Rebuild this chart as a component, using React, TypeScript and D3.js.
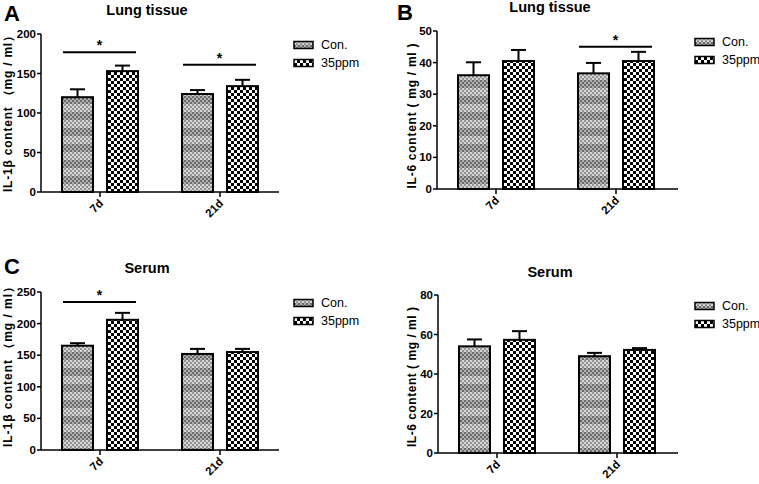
import React from 'react';
import * as d3 from 'd3';

const categories = ['7d', '21d'];
const seriesNames = ['Con.', '35ppm'];

// Panel A: IL-1β lung tissue
const aCon = [120, 124];
const aConErr = [10, 5];
const a35 = [153, 134];
const a35Err = [7, 8];
const aSig = [{ cat: '7d', y: 177 }, { cat: '21d', y: 161 }];
const aTicks = [0, 50, 100, 150, 200];

// Panel B: IL-6 lung tissue
const bCon = [36, 36.6];
const bConErr = [4.1, 3.3];
const b35 = [40.5, 40.5];
const b35Err = [3.5, 2.9];
const bSig = [{ cat: '21d', y: 45 }];
const bTicks = [0, 10, 20, 30, 40, 50];

// Panel C: IL-1β serum
const cCon = [165, 152];
const cConErr = [4, 8];
const c35 = [206, 155];
const c35Err = [11, 5];
const cSig = [{ cat: '7d', y: 234 }];
const cTicks = [0, 50, 100, 150, 200, 250];

// Panel D: IL-6 serum
const dCon = [54, 49];
const dConErr = [3.5, 1.7];
const d35 = [57.3, 52.2];
const d35Err = [4.4, 0.9];
const dSig: { cat: string; y: number }[] = [];
const dTicks = [0, 20, 40, 60, 80];

const FONT = 'Liberation Sans, Arial, sans-serif';

type PanelProps = {
  letter?: string;
  letterX?: number;
  letterY?: number;
  title: string;
  yLabel: string;
  axisX: number;
  xEnd: number;
  yTop: number;
  y0: number;
  yMax: number;
  ticks: number[];
  con: number[];
  conErr: number[];
  exp: number[];
  expErr: number[];
  sig: { cat: string; y: number }[];
  titleX: number;
  titleY: number;
  labelX: number;
  labelY: number;
  labelLen: number;
  legendX: number;
  legendY: number;
};

function Patterns() {
  const cells: JSX.Element[] = [];
  for (let r = 0; r < 8; r++) {
    for (let c = 0; c < 2; c++) {
      const dark = (r + c) % 2 === 0;
      const band = Math.floor(r / 4) === 0;
      const fill = band ? (dark ? '#6a6a6a' : '#b0b0b0') : (dark ? '#939393' : '#d6d6d6');
      cells.push(<rect key={`${r}-${c}`} x={c * 2} y={r * 2} width={2} height={2} fill={fill} />);
    }
  }
  return (
    <defs>
      <pattern id="conPat" patternUnits="userSpaceOnUse" width={4} height={16}>
        {cells}
      </pattern>
      <pattern id="expPat" patternUnits="userSpaceOnUse" width={6} height={6}>
        <rect x={0} y={0} width={6} height={6} fill="#fff" />
        <rect x={0} y={0} width={3} height={3} fill="#000" />
        <rect x={3} y={3} width={3} height={3} fill="#000" />
      </pattern>
    </defs>
  );
}

function Panel(p: PanelProps) {
  const y = d3.scaleLinear().domain([0, p.yMax]).range([p.y0, p.yTop]);
  const x = d3.scaleBand().domain(categories).range([p.axisX - 1, p.axisX + 239]).paddingInner(0).paddingOuter(0);
  const inner = d3.scaleBand().domain(seriesNames).range([-38, 38]).paddingInner(14 / 45).paddingOuter(0);
  const series = [
    { name: seriesNames[0], vals: p.con, errs: p.conErr, fill: 'url(#conPat)' },
    { name: seriesNames[1], vals: p.exp, errs: p.expErr, fill: 'url(#expPat)' },
  ];
  const bw = inner.bandwidth();
  return (
    <g fontFamily={FONT}>
      {p.letter && (
        <text x={p.letterX} y={p.letterY} fontSize={22} fontWeight="bold">{p.letter}</text>
      )}
      <text x={p.titleX} y={p.titleY} fontSize={14.5} fontWeight="bold" textAnchor="middle">{p.title}</text>
      {categories.map((cat, ci) =>
        series.map((s) => {
          const cx = (x(cat) as number) + x.bandwidth() / 2;
          const bx = cx + (inner(s.name) as number);
          const top = y(s.vals[ci]);
          const errTop = y(s.vals[ci] + s.errs[ci]);
          const mid = bx + bw / 2;
          return (
            <g key={cat + s.name}>
              <line x1={mid} x2={mid} y1={top} y2={errTop} stroke="#000" strokeWidth={2} />
              <line x1={mid - 7.5} x2={mid + 7.5} y1={errTop} y2={errTop} stroke="#000" strokeWidth={2} />
              <rect x={bx} y={top} width={bw} height={p.y0 - top} fill={s.fill} stroke="#000" strokeWidth={2} />
            </g>
          );
        })
      )}
      {p.sig.map((sg) => {
        const cx = (x(sg.cat) as number) + x.bandwidth() / 2;
        const x1 = cx + (inner(seriesNames[0]) as number) + 1;
        const x2 = cx + (inner(seriesNames[1]) as number) + bw - 2;
        const yy = y(sg.y);
        return (
          <g key={'sig' + sg.cat}>
            <line x1={x1} x2={x2} y1={yy} y2={yy} stroke="#000" strokeWidth={2} />
            <text x={(x1 + x2) / 2} y={yy - 2} fontSize={14} fontWeight="bold" textAnchor="middle">*</text>
          </g>
        );
      })}
      <line x1={p.axisX} x2={p.axisX} y1={p.yTop} y2={p.y0} stroke="#000" strokeWidth={1.5} />
      {p.ticks.map((t) => (
        <g key={'yt' + t}>
          <line x1={p.axisX - 4} x2={p.axisX} y1={y(t)} y2={y(t)} stroke="#000" strokeWidth={1.5} />
          <text x={p.axisX - 5} y={y(t)} dy="0.35em" fontSize={11.5} fontWeight="bold" textAnchor="end">{t}</text>
        </g>
      ))}
      <line x1={p.axisX} x2={p.xEnd} y1={p.y0} y2={p.y0} stroke="#000" strokeWidth={1.5} />
      {categories.map((cat) => {
        const cx = (x(cat) as number) + x.bandwidth() / 2;
        return (
          <g key={'xt' + cat}>
            <line x1={cx} x2={cx} y1={p.y0} y2={p.y0 + 5} stroke="#000" strokeWidth={1.5} />
            <text transform={`translate(${cx + 4},${p.y0 + 12}) rotate(-45)`} fontSize={11.5} fontWeight="bold" textAnchor="end">{cat}</text>
          </g>
        );
      })}
      <text transform={`translate(${p.labelX},${p.labelY}) rotate(-90)`} fontSize={12} fontWeight="bold" textAnchor="middle" dy="0.35em"
        textLength={p.labelLen} lengthAdjust="spacing">{p.yLabel}</text>
      {series.map((s, i) => (
        <g key={'lg' + s.name} transform={`translate(${p.legendX},${p.legendY + i * 18})`}>
          <rect x={0} y={-3.5} width={19} height={7} fill={s.fill} stroke="#000" strokeWidth={1.5} />
          <text x={27} y={0} dy="0.35em" fontSize={12.5}>{s.name}</text>
        </g>
      ))}
    </g>
  );
}

export default function App() {
  return (
    <svg width={759} height={484} style={{ position: 'absolute', left: 0, top: 0, background: '#fff' }}>
      <Patterns />
      <rect x={0} y={0} width={759} height={484} fill="#fff" />
      <Panel letter="A" letterX={4} letterY={21} title="Lung tissue" yLabel="IL-1β  content （mg / ml）" axisX={41} xEnd={279} yTop={34} y0={192}
        yMax={200} ticks={aTicks} con={aCon} conErr={aConErr} exp={a35} expErr={a35Err} sig={aSig}
        titleX={147} titleY={15} labelX={8} labelY={111} labelLen={162} legendX={294} legendY={45} />
      <Panel letter="B" letterX={397} letterY={20} title="Lung tissue" yLabel="IL-6 content ( mg / ml )" axisX={437} xEnd={678} yTop={31} y0={189}
        yMax={50} ticks={bTicks} con={bCon} conErr={bConErr} exp={b35} expErr={b35Err} sig={bSig}
        titleX={550} titleY={12} labelX={412} labelY={116} labelLen={145} legendX={695} legendY={42} />
      <Panel letter="C" letterX={4} letterY={274} title="Serum" yLabel="IL-1β  content （mg / ml）" axisX={41} xEnd={279} yTop={292} y0={450}
        yMax={250} ticks={cTicks} con={cCon} conErr={cConErr} exp={c35} expErr={c35Err} sig={cSig}
        titleX={147} titleY={273} labelX={8} labelY={364} labelLen={166} legendX={294} legendY={303} />
      <Panel title="Serum" yLabel="IL-6 content ( mg / ml )" axisX={438} xEnd={678} yTop={295} y0={453}
        yMax={80} ticks={dTicks} con={dCon} conErr={dConErr} exp={d35} expErr={d35Err} sig={dSig}
        titleX={550} titleY={277} labelX={412} labelY={377} labelLen={140} legendX={695} legendY={306} />
    </svg>
  );
}
